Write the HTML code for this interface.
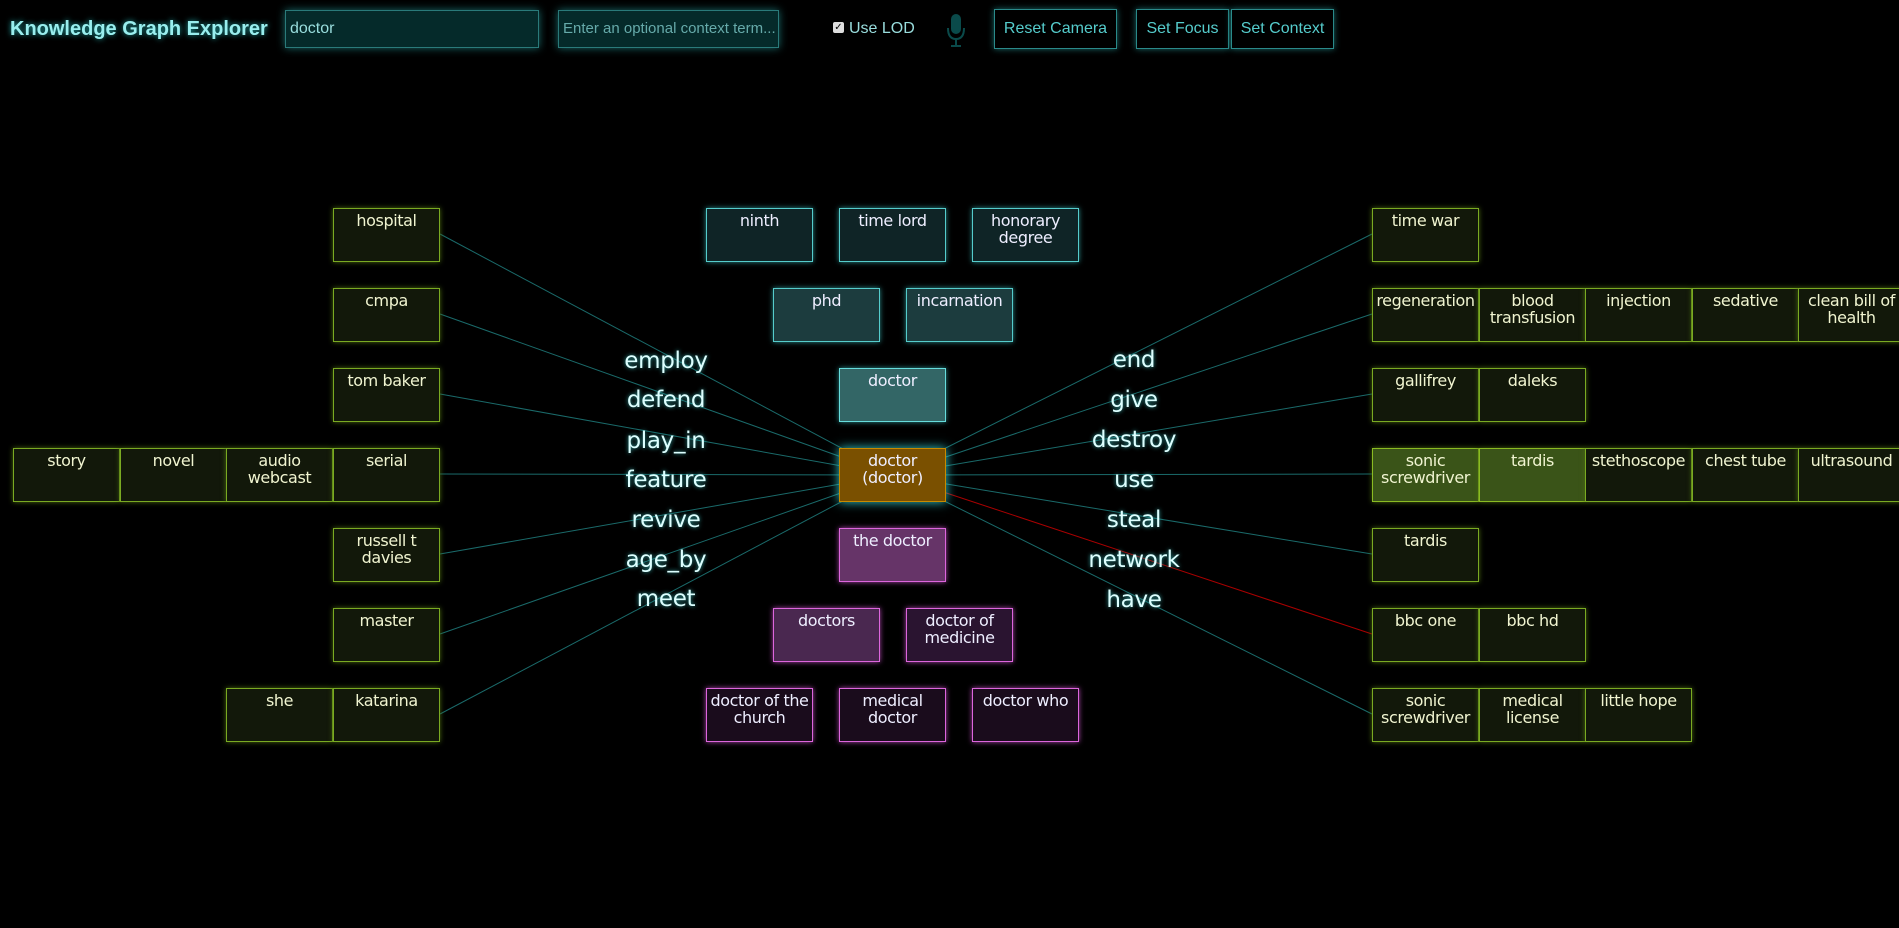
<!DOCTYPE html>
<html><head><meta charset="utf-8"><style>
*{box-sizing:border-box;margin:0;padding:0}
body{width:1899px;height:928px;background:#000;overflow:hidden;position:relative;font-family:"DejaVu Sans","Liberation Sans",sans-serif}
.t{position:absolute;font-family:"Liberation Sans",sans-serif}
.title{left:10px;top:18px;font-size:20px;font-weight:bold;color:#9ee;text-shadow:0 0 6px #2aa}
.inp{position:absolute;top:10px;height:38px;background:#052a2a;border:1px solid #2a7a7a;box-shadow:0 0 8px #1a6a6a;color:#9dd;font-family:"Liberation Sans",sans-serif;font-size:16px;padding:9px 4px;white-space:nowrap;overflow:hidden}
.btn{position:absolute;top:9px;height:40px;border:1px solid #2a8a8a;box-shadow:0 0 6px #1a6a6a;color:#5cc;font-family:"Liberation Sans",sans-serif;font-size:16px;text-align:center;line-height:38px;background:#000}
.n{position:absolute;width:107px;height:54px;text-align:center;font-size:16px;letter-spacing:-0.4px;line-height:17px;padding-top:3px;color:#eef}
.g{background:#12180a;border:1.5px solid #7aaa22;color:#f0f4d0;box-shadow:0 0 5px #4a6a10}
.gh{background:#3a5418;border:1.5px solid #8abb22;color:#f0f4d0;box-shadow:0 0 5px #4a6a10}
.c{background:#0f2426;border:1.5px solid #5cc;box-shadow:0 0 5px #2a8a8a}
.c2{background:#1c3c3e;border:1.5px solid #5cc;box-shadow:0 0 5px #2a8a8a}
.c3{background:#336666;border:1.5px solid #6dd;box-shadow:0 0 5px #2a8a8a}
.o{background:#7a5000;border:1.5px solid #c88a00;box-shadow:0 0 10px #3cc}
.p1{background:#663468;border:1.5px solid #d6d;box-shadow:0 0 5px #a4a}
.p2{background:#4a2850;border:1.5px solid #d6d;box-shadow:0 0 5px #a4a}
.p3{background:#2a1430;border:1.5px solid #d6d;box-shadow:0 0 5px #a4a}
.p4{background:#1a0c1c;border:1.5px solid #d6d;box-shadow:0 0 5px #a4a}
.lb{position:absolute;font-size:23px;letter-spacing:-0.3px;color:#dff;text-shadow:0 0 4px #3aa;width:140px;text-align:center;margin-left:-70px;margin-top:-12px}
</style></head><body>
<div class="t title">Knowledge Graph Explorer</div>
<div class="inp" style="left:285px;width:254px">doctor</div>
<div class="inp" style="left:558px;width:221px;color:#6aa;font-size:15px">Enter an optional context term...</div>
<div class="t" style="left:833px;top:22px;width:11px;height:11px;background:#ddd;border-radius:2px;font-size:10px;line-height:11px;color:#000;text-align:center">✓</div>
<div class="t" style="left:849px;top:20px;font-size:16px;color:#9dd">Use LOD</div>
<svg style="position:absolute;left:945px;top:12px" width="22" height="36"><rect x="6" y="2" width="10" height="20" rx="5" fill="#0a4a4a"/><path d="M3 16 Q3 27 11 27 Q19 27 19 16" stroke="#0a4a4a" stroke-width="2" fill="none"/><line x1="11" y1="27" x2="11" y2="34" stroke="#0a4a4a" stroke-width="2"/><line x1="6" y1="34" x2="16" y2="34" stroke="#0a4a4a" stroke-width="2"/></svg>
<div class="btn" style="left:994px;width:123px">Reset Camera</div>
<div class="btn" style="left:1136px;width:93px">Set Focus</div>
<div class="btn" style="left:1231px;width:103px">Set Context</div>

<svg style="position:absolute;left:0;top:0" width="1899" height="928">
<g stroke="#1a6a6a" stroke-width="1">
<line x1="892" y1="475" x2="440" y2="234"/>
<line x1="892" y1="475" x2="440" y2="314"/>
<line x1="892" y1="475" x2="440" y2="394"/>
<line x1="892" y1="475" x2="440" y2="474"/>
<line x1="892" y1="475" x2="440" y2="554"/>
<line x1="892" y1="475" x2="440" y2="634"/>
<line x1="892" y1="475" x2="440" y2="714"/>
<line x1="892" y1="475" x2="1372" y2="234"/>
<line x1="892" y1="475" x2="1372" y2="314"/>
<line x1="892" y1="475" x2="1372" y2="394"/>
<line x1="892" y1="475" x2="1372" y2="474"/>
<line x1="892" y1="475" x2="1372" y2="554"/>
<line x1="892" y1="475" x2="1372" y2="714"/>
</g>
<line x1="892" y1="475" x2="1372" y2="634" stroke="#a00" stroke-width="1"/>
</svg>

<div class="n g" style="left:333px;top:208px">hospital</div>
<div class="n g" style="left:333px;top:288px">cmpa</div>
<div class="n g" style="left:333px;top:368px">tom baker</div>
<div class="n g" style="left:13px;top:448px">story</div>
<div class="n g" style="left:120px;top:448px">novel</div>
<div class="n g" style="left:226px;top:448px">audio webcast</div>
<div class="n g" style="left:333px;top:448px">serial</div>
<div class="n g" style="left:333px;top:528px">russell t davies</div>
<div class="n g" style="left:333px;top:608px">master</div>
<div class="n g" style="left:226px;top:688px">she</div>
<div class="n g" style="left:333px;top:688px">katarina</div>

<div class="n c" style="left:706px;top:208px">ninth</div>
<div class="n c" style="left:839px;top:208px">time lord</div>
<div class="n c" style="left:972px;top:208px">honorary degree</div>
<div class="n c2" style="left:773px;top:288px">phd</div>
<div class="n c2" style="left:906px;top:288px">incarnation</div>
<div class="n c3" style="left:839px;top:368px">doctor</div>
<div class="n o" style="left:839px;top:448px">doctor (doctor)</div>
<div class="n p1" style="left:839px;top:528px">the doctor</div>
<div class="n p2" style="left:773px;top:608px">doctors</div>
<div class="n p3" style="left:906px;top:608px">doctor of medicine</div>
<div class="n p4" style="left:706px;top:688px">doctor of the church</div>
<div class="n p4" style="left:839px;top:688px">medical doctor</div>
<div class="n p4" style="left:972px;top:688px">doctor who</div>

<div class="n g" style="left:1372px;top:208px">time war</div>
<div class="n g" style="left:1372px;top:288px">regeneration</div>
<div class="n g" style="left:1479px;top:288px">blood transfusion</div>
<div class="n g" style="left:1585px;top:288px">injection</div>
<div class="n g" style="left:1692px;top:288px">sedative</div>
<div class="n g" style="left:1798px;top:288px">clean bill of health</div>
<div class="n g" style="left:1372px;top:368px">gallifrey</div>
<div class="n g" style="left:1479px;top:368px">daleks</div>
<div class="n gh" style="left:1372px;top:448px">sonic screwdriver</div>
<div class="n gh" style="left:1479px;top:448px">tardis</div>
<div class="n g" style="left:1585px;top:448px">stethoscope</div>
<div class="n g" style="left:1692px;top:448px">chest tube</div>
<div class="n g" style="left:1798px;top:448px">ultrasound</div>
<div class="n g" style="left:1372px;top:528px">tardis</div>
<div class="n g" style="left:1372px;top:608px">bbc one</div>
<div class="n g" style="left:1479px;top:608px">bbc hd</div>
<div class="n g" style="left:1372px;top:688px">sonic screwdriver</div>
<div class="n g" style="left:1479px;top:688px">medical license</div>
<div class="n g" style="left:1585px;top:688px">little hope</div>

<div class="lb" style="left:666px;top:360px">employ</div>
<div class="lb" style="left:666px;top:399px">defend</div>
<div class="lb" style="left:666px;top:440px">play_in</div>
<div class="lb" style="left:666px;top:479px">feature</div>
<div class="lb" style="left:666px;top:519px">revive</div>
<div class="lb" style="left:666px;top:559px">age_by</div>
<div class="lb" style="left:666px;top:598px">meet</div>
<div class="lb" style="left:1134px;top:359px">end</div>
<div class="lb" style="left:1134px;top:399px">give</div>
<div class="lb" style="left:1134px;top:439px">destroy</div>
<div class="lb" style="left:1134px;top:479px">use</div>
<div class="lb" style="left:1134px;top:519px">steal</div>
<div class="lb" style="left:1134px;top:559px">network</div>
<div class="lb" style="left:1134px;top:599px">have</div>
</body></html>
